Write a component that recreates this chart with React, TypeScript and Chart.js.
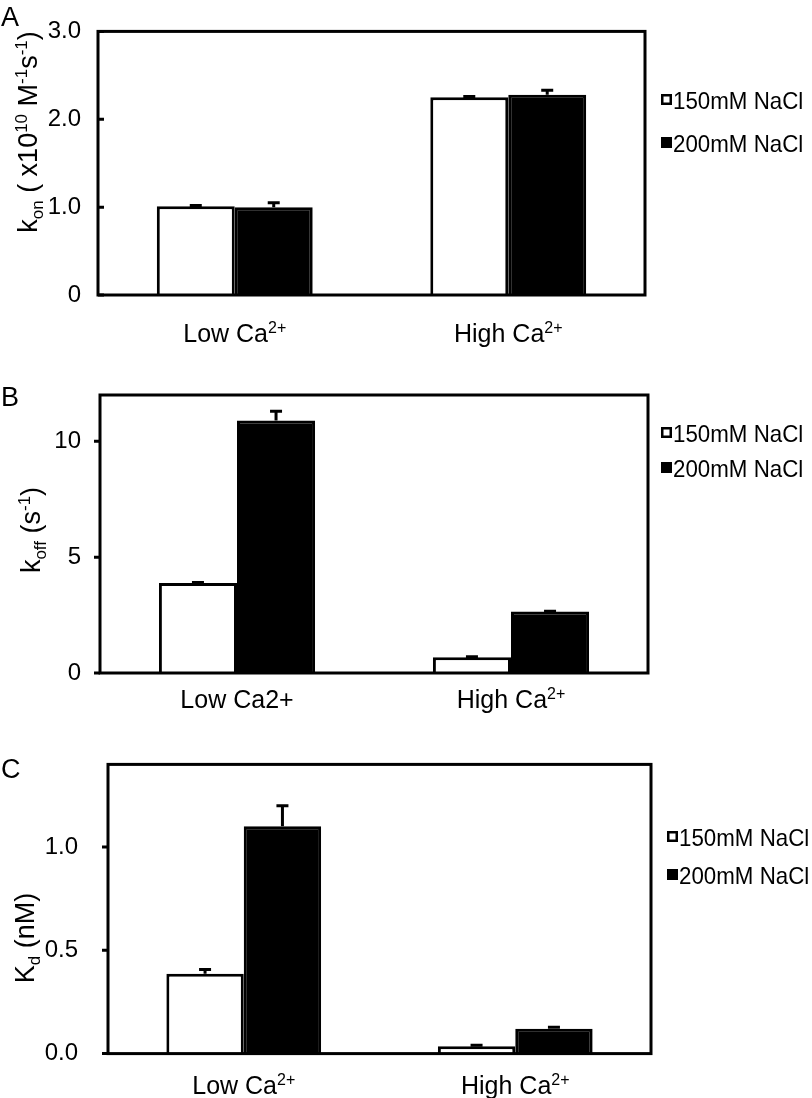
import React, { useEffect, useRef } from 'react';
import { Chart, registerables } from 'chart.js';

Chart.register(...registerables);

const FONT = '"Liberation Sans", Arial, Helvetica, sans-serif';

// ---------- data ----------
const seriesNames = ['150mM NaCl', '200mM NaCl'];

// Panel A: k_on
const categoriesA = ['Low Ca^{2+}', 'High Ca^{2+}'];
const kon150 = [1.01, 2.25];
const konErr150 = [0.01, 0.01];
const kon200 = [1.0, 2.28];
const konErr200 = [0.05, 0.05];
const tickValuesA = [0, 1, 2, 3];
const tickLabelsA = ['0', '1.0', '2.0', '3.0'];

// Panel B: k_off
const categoriesB = ['Low Ca2+', 'High Ca^{2+}'];
const koff150 = [3.88, 0.68];
const koffErr150 = [0.03, 0.02];
const koff200 = [10.9, 2.65];
const koffErr200 = [0.4, 0.02];
const tickValuesB = [0, 5, 10];
const tickLabelsB = ['0', '5', '10'];

// Panel C: K_d
const categoriesC = ['Low Ca^{2+}', 'High Ca^{2+}'];
const kd150 = [0.387, 0.035];
const kdErr150 = [0.02, 0.006];
const kd200 = [1.1, 0.12];
const kdErr200 = [0.1, 0.008];
const tickValuesC = [0, 0.5, 1.0];
const tickLabelsC = ['0.0', '0.5', '1.0'];

// ---------- rich text helpers ----------
type Seg = { t: string; mode: 'n' | 'sup' | 'sub' };
function parseRich(s: string): Seg[] {
  const segs: Seg[] = [];
  const re = /([_^])\{([^}]*)\}/g;
  let last = 0;
  let m: RegExpExecArray | null;
  while ((m = re.exec(s))) {
    if (m.index > last) segs.push({ t: s.slice(last, m.index), mode: 'n' });
    segs.push({ t: m[2], mode: m[1] === '^' ? 'sup' : 'sub' });
    last = re.lastIndex;
  }
  if (last < s.length) segs.push({ t: s.slice(last), mode: 'n' });
  return segs;
}

function drawRich(
  ctx: CanvasRenderingContext2D,
  s: string,
  x: number,
  y: number,
  size: number,
  align: 'center' | 'left',
  rotate = false,
  scaleX = 1
) {
  const segs = parseRich(s);
  const small = Math.round(size * 0.64);
  const fontFor = (mode: string) => `${mode === 'n' ? size : small}px ${FONT}`;
  let total = 0;
  const widths = segs.map((sg) => {
    ctx.font = fontFor(sg.mode);
    const w = ctx.measureText(sg.t).width;
    total += w;
    return w;
  });
  ctx.save();
  ctx.translate(x, y);
  if (rotate) ctx.rotate(-Math.PI / 2);
  ctx.scale(scaleX, 1);
  let cx = align === 'center' ? -total / 2 : 0;
  ctx.textBaseline = 'alphabetic';
  ctx.textAlign = 'left';
  ctx.fillStyle = '#000';
  segs.forEach((sg, i) => {
    ctx.font = fontFor(sg.mode);
    const dy = sg.mode === 'sup' ? -size * 0.36 : sg.mode === 'sub' ? size * 0.24 : 0;
    ctx.fillText(sg.t, cx, dy);
    cx += widths[i];
  });
  ctx.restore();
}

// ---------- plugin ----------
const decorPlugin = {
  id: 'panelDecor',
  afterDatasetsDraw(chart: any) {
    const ctx: CanvasRenderingContext2D = chart.ctx;
    const yScale = chart.scales.y;
    ctx.save();
    ctx.strokeStyle = '#000';
    ctx.lineWidth = 3;
    chart.data.datasets.forEach((ds: any, di: number) => {
      const meta = chart.getDatasetMeta(di);
      meta.data.forEach((el: any, i: number) => {
        const v = ds.data[i];
        const e = ds.errors[i];
        const yTop = yScale.getPixelForValue(v + e);
        ctx.beginPath();
        ctx.moveTo(el.x, el.y);
        ctx.lineTo(el.x, yTop);
        ctx.moveTo(el.x - 6, yTop);
        ctx.lineTo(el.x + 6, yTop);
        ctx.stroke();
      });
    });
    ctx.restore();
  },
  afterDraw(chart: any) {
    const o = chart.options.plugins.panelDecor;
    const ctx: CanvasRenderingContext2D = chart.ctx;
    const { left, right, top, bottom } = chart.chartArea;
    const yScale = chart.scales.y;
    const xScale = chart.scales.x;
    ctx.save();
    // frame
    ctx.strokeStyle = '#000';
    ctx.lineWidth = 3;
    ctx.strokeRect(left, top, right - left, bottom - top);
    // tick marks
    ctx.beginPath();
    yScale.ticks.forEach((t: any) => {
      const y = yScale.getPixelForValue(t.value);
      ctx.moveTo(left, y);
      ctx.lineTo(o.inward ? left + 6 : left - 6, y);
    });
    ctx.stroke();
    // x labels
    chart.data.labels.forEach((lab: string, i: number) => {
      const x = xScale.getPixelForTick(i);
      drawRich(ctx, lab, x, o.xLabelY, 25, 'center');
    });
    // y title
    drawRich(ctx, o.title, o.titleX, o.titleCY, 27, 'center', true);
    // panel letter
    ctx.font = `27px ${FONT}`;
    ctx.fillStyle = '#000';
    ctx.textAlign = 'left';
    ctx.textBaseline = 'alphabetic';
    ctx.fillText(o.letter, o.letterX, o.letterY);
    // legend
    chart.data.datasets.forEach((ds: any, di: number) => {
      const cy = o.legendY[di];
      const sx = o.legendX;
      ctx.fillStyle = ds.backgroundColor;
      ctx.fillRect(sx, cy - 6, 11, 11);
      ctx.strokeStyle = '#000';
      ctx.lineWidth = 2.5;
      ctx.strokeRect(sx + 1.25, cy - 4.75, 8.5, 8.5);
      drawRich(ctx, ds.label, sx + 12, cy + 8.5, 24, 'left', false, 0.93);
    });
    ctx.restore();
  },
};

type PanelProps = {
  top: number;
  height: number;
  area: { left: number; right: number; top: number; bottom: number };
  labels: string[];
  s150: number[];
  e150: number[];
  s200: number[];
  e200: number[];
  max: number;
  tickValues: number[];
  tickLabels: string[];
  tickGap: number;
  deco: any;
};

function Panel(p: PanelProps) {
  const ref = useRef<HTMLCanvasElement>(null);
  useEffect(() => {
    if (!ref.current) return;
    const W = 812;
    const chart = new Chart(ref.current, {
      type: 'bar',
      data: {
        labels: p.labels,
        datasets: [
          {
            label: seriesNames[0],
            data: p.s150,
            errors: p.e150,
            backgroundColor: '#ffffff',
            borderColor: '#000000',
            borderWidth: 3,
            categoryPercentage: 0.57,
            barPercentage: 1,
          } as any,
          {
            label: seriesNames[1],
            data: p.s200,
            errors: p.e200,
            backgroundColor: '#000000',
            borderColor: '#000000',
            borderWidth: 3,
            categoryPercentage: 0.57,
            barPercentage: 1,
          } as any,
        ],
      },
      options: {
        responsive: false,
        animation: false,
        layout: {
          padding: { left: 0, top: p.area.top, right: W - p.area.right, bottom: p.height - p.area.bottom },
        },
        plugins: {
          legend: { display: false },
          tooltip: { enabled: false },
          panelDecor: p.deco,
        } as any,
        scales: {
          x: {
            grid: { display: false, drawTicks: false },
            border: { display: false },
            ticks: { display: false },
            afterFit: (s: any) => {
              s.height = 0;
            },
          },
          y: {
            min: 0,
            max: p.max,
            grid: { display: false, drawTicks: false },
            border: { display: false },
            afterBuildTicks: (s: any) => {
              s.ticks = p.tickValues.map((v) => ({ value: v }));
            },
            ticks: {
              padding: p.tickGap,
              color: '#000',
              font: { family: FONT, size: 24 },
              callback: (v: any) => {
                const idx = p.tickValues.findIndex((t) => Math.abs(t - Number(v)) < 1e-9);
                return idx >= 0 ? p.tickLabels[idx] : '';
              },
            },
            afterFit: (s: any) => {
              s.width = p.area.left;
            },
          },
        },
      } as any,
      plugins: [decorPlugin],
    });
    return () => chart.destroy();
  }, []);
  return (
    <canvas
      ref={ref}
      width={812}
      height={p.height}
      style={{ position: 'absolute', left: 0, top: p.top, width: 812, height: p.height }}
    />
  );
}

export default function App() {
  return (
    <div style={{ position: 'absolute', left: 0, top: 0, width: 812, height: 1098, background: '#fff' }}>
      <Panel
        top={0}
        height={350}
        area={{ left: 98, right: 645, top: 22, bottom: 295 }}
        labels={categoriesA}
        s150={kon150}
        e150={konErr150}
        s200={kon200}
        e200={konErr200}
        max={3}
        tickValues={tickValuesA}
        tickLabels={tickLabelsA}
        tickGap={17}
        deco={{
          inward: true,
          xLabelY: 342,
          title: 'k_{on} ( x10^{10} M^{-1}s^{-1})',
          titleX: 37,
          titleCY: 132,
          letter: 'A',
          letterX: 1,
          letterY: 26,
          legendX: 661,
          legendY: [100, 143],
        }}
      />
      <Panel
        top={350}
        height={370}
        area={{ left: 100, right: 648, top: 45, bottom: 323 }}
        labels={categoriesB}
        s150={koff150}
        e150={koffErr150}
        s200={koff200}
        e200={koffErr200}
        max={12}
        tickValues={tickValuesB}
        tickLabels={tickLabelsB}
        tickGap={19}
        deco={{
          inward: false,
          xLabelY: 358,
          title: 'k_{off} (s^{-1})',
          titleX: 40,
          titleCY: 180,
          letter: 'B',
          letterX: 1,
          letterY: 56,
          legendX: 661,
          legendY: [83, 118],
        }}
      />
      <Panel
        top={720}
        height={378}
        area={{ left: 108, right: 651, top: 43, bottom: 335 }}
        labels={categoriesC}
        s150={kd150}
        e150={kdErr150}
        s200={kd200}
        e200={kdErr200}
        max={1.4}
        tickValues={tickValuesC}
        tickLabels={tickLabelsC}
        tickGap={30}
        deco={{
          inward: false,
          xLabelY: 374,
          title: 'K_{d} (nM)',
          titleX: 34,
          titleCY: 218,
          letter: 'C',
          letterX: 1,
          letterY: 58,
          legendX: 667,
          legendY: [117, 155],
        }}
      />
    </div>
  );
}
